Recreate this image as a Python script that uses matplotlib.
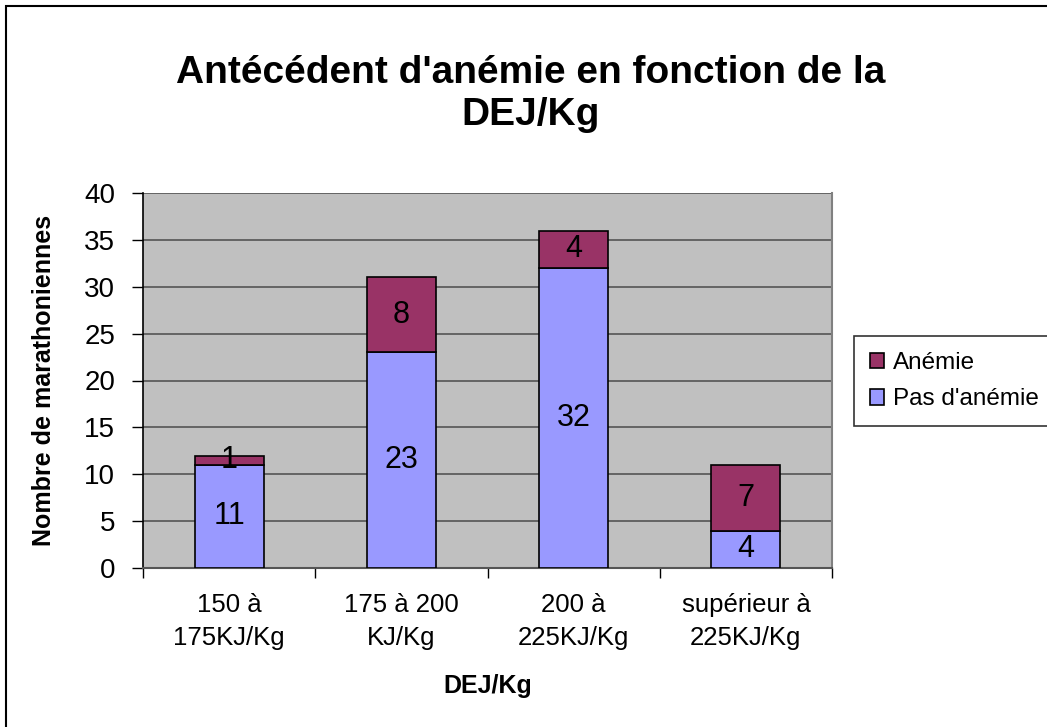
import numpy as np
import matplotlib.pyplot as plt
from matplotlib.patches import Rectangle

plt.rcParams['font.family'] = ['Liberation Sans', 'DejaVu Sans']

# data
categories = ['150 à\n175KJ/Kg', '175 à 200\nKJ/Kg', '200 à\n225KJ/Kg', 'supérieur à\n225KJ/Kg']
pas_anemie = [11, 23, 32, 4]
anemie = [1, 8, 4, 7]

W, H = 1047, 727
fig = plt.figure(figsize=(W/100, H/100), dpi=100)

# outer chart frame (left and top edges visible)
fig.patches.append(Rectangle((6/W, -0.01), 1.1, (H-6)/H + 0.01, transform=fig.transFigure,
                             fill=False, edgecolor='black', linewidth=1.5))

ax = fig.add_axes([143/W, (H-568)/H, 689/W, 375/H])
ax.set_facecolor('#C0C0C0')

x = np.arange(len(categories))
bw = 0.4
ax.bar(x, pas_anemie, bw, color='#9999FF', edgecolor='black', linewidth=1.2,
       label="Pas d'anémie", zorder=3)
ax.bar(x, anemie, bw, bottom=pas_anemie, color='#993366', edgecolor='black',
       linewidth=1.2, label='Anémie', zorder=3)

for i in range(len(x)):
    ax.text(x[i], pas_anemie[i]/2, str(pas_anemie[i]), ha='center', va='center',
            fontsize=22, zorder=4)
    ax.text(x[i], pas_anemie[i] + anemie[i]/2, str(anemie[i]), ha='center', va='center',
            fontsize=22, zorder=4)

ax.set_xlim(-0.5, len(categories) - 0.5)
ax.set_ylim(0, 40)
ax.set_yticks(np.arange(0, 41, 5))
ax.yaxis.grid(True, color='#555555', linewidth=1.2, zorder=0)
ax.set_axisbelow(True)

ax.set_xticks(np.arange(-0.5, len(categories), 1))
ax.set_xticklabels([])
ax.set_xticks(x, minor=True)
ax.set_xticklabels(categories, minor=True, fontsize=18.5, linespacing=1.5)
ax.tick_params(axis='x', which='major', length=7, width=1, color='black', direction='out')
ax.tick_params(axis='x', which='minor', length=0, pad=18)
ax.tick_params(axis='y', length=8, width=1, labelsize=20, pad=12)

ax.spines['left'].set_color('black')
ax.spines['left'].set_linewidth(1.2)
ax.spines['bottom'].set_color('#555555')
ax.spines['bottom'].set_linewidth(1.5)
ax.spines['right'].set_color('#808080')
ax.spines['top'].set_visible(False)
ax.spines['right'].set_linewidth(1.5)

ax.set_xlabel('DEJ/Kg', fontsize=18, fontweight='bold', labelpad=17)
ax.set_ylabel('Nombre de marathoniennes', fontsize=18, fontweight='bold', labelpad=20)

fig.text(531/W, 1 - 94/H, "Antécédent d'anémie en fonction de la\nDEJ/Kg", ha='center',
         va='center', fontsize=28, fontweight='bold', linespacing=1.2)

handles, labels = ax.get_legend_handles_labels()
leg = fig.legend(handles[::-1], labels[::-1], loc='upper left',
                 bbox_to_anchor=(854/W, 1 - 336/H), fontsize=17.5, frameon=True,
                 fancybox=False, edgecolor='black', handlelength=0.6, handleheight=0.6,
                 handletextpad=0.35, borderpad=0.65, labelspacing=0.6, borderaxespad=0)
leg.get_frame().set_linewidth(1.2)

fig.savefig('out.png', dpi=100)
